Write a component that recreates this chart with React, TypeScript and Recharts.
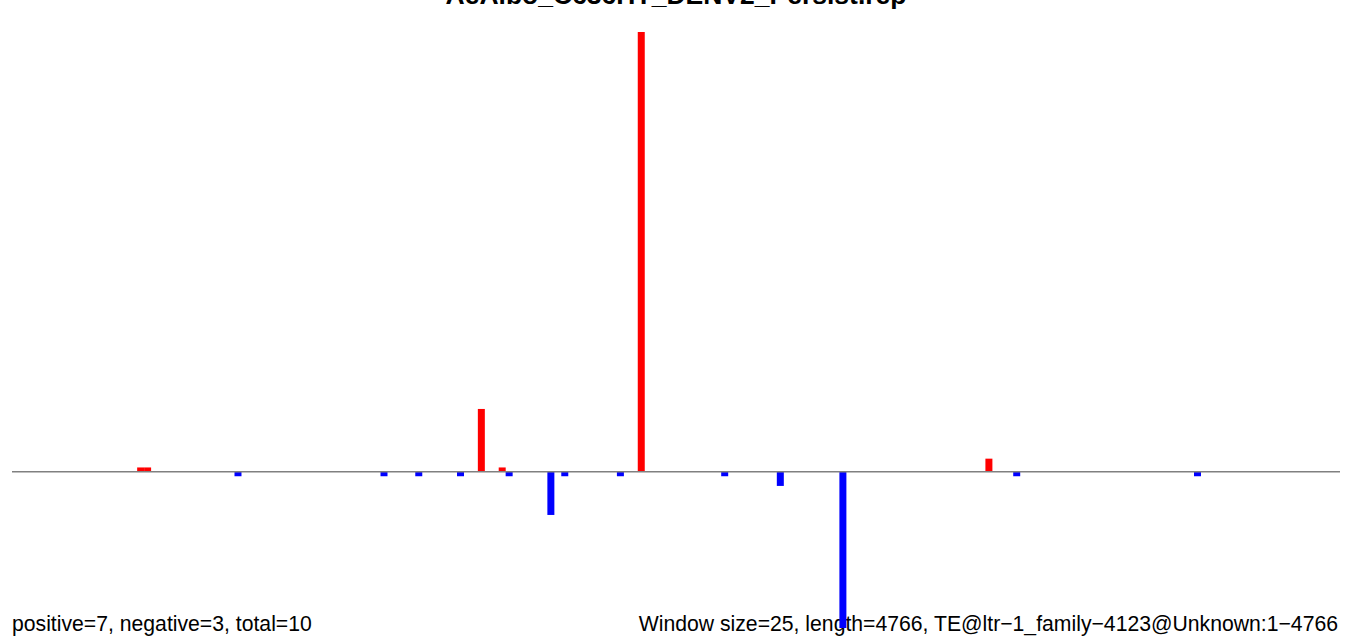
import { BarChart, Bar, XAxis, YAxis, ReferenceLine } from 'recharts';

const TITLE = 'AeAlbo_C636HT_DENV2_Persist.rep';
const FOOT_LEFT = 'positive=7, negative=3, total=10';
const FOOT_RIGHT = 'Window size=25, length=4766, TE@ltr\u22121_family\u22124123@Unknown:1\u22124766';

const WINDOW_COUNT = 191;

// window index -> value
const positiveBins = [18, 19, 67, 70, 90, 140];
const positiveValues = [1, 1, 14.3, 1, 100, 3];
const negativeBins = [32, 53, 58, 64, 71, 77, 79, 87, 102, 110, 119, 144, 170];
const negativeValues = [-1, -1, -1, -1, -1, -9.8, -1, -1, -1, -3.2, -35.5, -1, -1];

const data = Array.from({ length: WINDOW_COUNT }, (_, i) => {
  const p = positiveBins.indexOf(i);
  const n = negativeBins.indexOf(i);
  return {
    bin: i,
    pos: p >= 0 ? positiveValues[p] : 0,
    neg: n >= 0 ? negativeValues[n] : 0,
  };
});

const W = 1352;
const H = 641;
const FONT = '"Liberation Sans", Arial, sans-serif';

export default function App() {
  return (
    <div style={{ position: 'absolute', left: 0, top: 0, width: W, height: H, background: '#fff' }}>
      <svg width={W} height={H} style={{ position: 'absolute', left: 0, top: 0 }}>
        <text x={676} y={4} textAnchor="middle" fontFamily={FONT} fontWeight="bold" fontSize={26.5} fill="#000">
          {TITLE}
        </text>
        <text x={12} y={631} fontFamily={FONT} fontSize={21.2} fill="#000">
          {FOOT_LEFT}
        </text>
        <text x={1338} y={631} textAnchor="end" fontFamily={FONT} fontSize={21.2} fill="#000">
          {FOOT_RIGHT}
        </text>
      </svg>
      <div style={{ position: 'absolute', left: 0, top: 0 }}>
        <BarChart
          width={W}
          height={H}
          data={data}
          margin={{ top: 32, right: 12, bottom: 13, left: 12 }}
          barCategoryGap={0}
          barGap={0}
        >
          <XAxis dataKey="bin" hide />
          <YAxis hide domain={[-35.5, 100]} allowDataOverflow />
          <Bar dataKey="pos" stackId="s" fill="#ff0000" isAnimationActive={false} />
          <Bar dataKey="neg" stackId="s" fill="#0000ff" isAnimationActive={false} />
          <ReferenceLine y={0} stroke="#808080" strokeWidth={1.5} />
        </BarChart>
      </div>
    </div>
  );
}
